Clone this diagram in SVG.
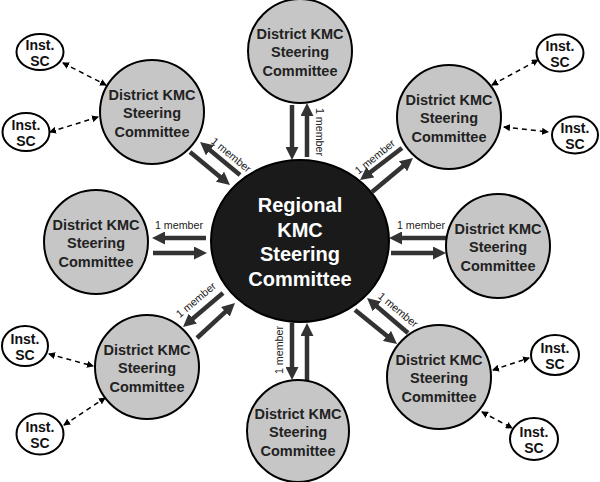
<svg xmlns="http://www.w3.org/2000/svg" width="600" height="482" viewBox="0 0 600 482">
<style>
.dn{fill:#c6c6c6;stroke:#000;stroke-width:2}
.dt{font-family:"Liberation Sans",Arial,sans-serif;font-weight:bold;font-size:14.5px;fill:#222;text-anchor:middle}
.ins{fill:#fff;stroke:#000;stroke-width:2}
.it{font-family:"Liberation Sans",Arial,sans-serif;font-weight:bold;font-size:14px;fill:#111;text-anchor:middle}
.ct{font-family:"Liberation Sans",Arial,sans-serif;font-weight:bold;font-size:20px;fill:#fff;text-anchor:middle}
.th{stroke:#333;stroke-width:4.5;fill:none;marker-end:url(#ah)}
.da{stroke:#000;stroke-width:1.5;stroke-dasharray:5 4;fill:none;marker-start:url(#sa);marker-end:url(#sa)}
.lb{font-family:"Liberation Sans",Arial,sans-serif;font-size:10.7px;fill:#222;text-anchor:middle}
</style>
<defs>
<marker id="ah" markerUnits="userSpaceOnUse" markerWidth="13" markerHeight="13" refX="5" refY="6.5" orient="auto"><path d="M0,0 L13,6.5 L0,13 z" fill="#333"/></marker>
<marker id="sa" markerUnits="userSpaceOnUse" markerWidth="7" markerHeight="7" refX="6" refY="3.5" orient="auto-start-reverse"><path d="M0,0 L7,3.5 L0,7 z" fill="#000"/></marker>
</defs>
<g id="connectors">
<line class="th" x1="292" y1="105" x2="292" y2="152"/>
<line class="th" x1="307" y1="157" x2="307" y2="111"/>
<line class="th" x1="292" y1="323" x2="292" y2="372"/>
<line class="th" x1="307" y1="381" x2="307" y2="331"/>
<line class="th" x1="206" y1="238" x2="160" y2="238"/>
<line class="th" x1="153" y1="253" x2="199" y2="253"/>
<line class="th" x1="446" y1="238" x2="397" y2="238"/>
<line class="th" x1="391" y1="253" x2="438" y2="253"/>
<line class="th" x1="240" y1="175" x2="206.2" y2="147.1"/>
<line class="th" x1="190" y1="152" x2="223.8" y2="179.9"/>
<line class="th" x1="402" y1="148" x2="366.4" y2="175.2"/>
<line class="th" x1="372" y1="192" x2="406.8" y2="163.1"/>
<line class="th" x1="223" y1="293" x2="189.1" y2="321.8"/>
<line class="th" x1="197" y1="338" x2="229.1" y2="308.4"/>
<line class="th" x1="408" y1="333" x2="373.1" y2="303.2"/>
<line class="th" x1="355" y1="310" x2="390.8" y2="339"/>
<line class="da" x1="63" y1="63" x2="106" y2="85"/>
<line class="da" x1="50" y1="132" x2="98" y2="117"/>
<line class="da" x1="492" y1="85" x2="538" y2="60"/>
<line class="da" x1="504" y1="127" x2="548" y2="132"/>
<line class="da" x1="49" y1="354" x2="93" y2="366"/>
<line class="da" x1="64" y1="425" x2="105" y2="398"/>
<line class="da" x1="493" y1="370" x2="529" y2="358"/>
<line class="da" x1="482" y1="412" x2="512" y2="428"/>
<g class="lb">
<text transform="translate(319,132) rotate(90)" y="3.5">1 member</text>
<text transform="translate(279,350) rotate(-90)" y="3.5">1 member</text>
<text x="179" y="229">1 member</text>
<text x="421" y="229">1 member</text>
<text transform="translate(231,155) rotate(39.5)" y="3.5">1 member</text>
<text transform="translate(375,157) rotate(-39)" y="3.5">1 member</text>
<text transform="translate(196,300) rotate(-40)" y="3.5">1 member</text>
<text transform="translate(398,310) rotate(40)" y="3.5">1 member</text>
</g>
</g>
<g id="regional">
<ellipse cx="300" cy="241" rx="89" ry="81" fill="#1a1a1a" stroke="#000" stroke-width="2"/>
<text class="ct" x="300" y="212">Regional</text>
<text class="ct" x="300" y="236.5">KMC</text>
<text class="ct" x="300" y="261">Steering</text>
<text class="ct" x="300" y="285.5">Committee</text>
</g>
<g id="district-top">
<circle class="dn" cx="300" cy="51" r="52"/>
<text class="dt" x="300" y="38.5">District KMC</text><text class="dt" x="300" y="57">Steering</text><text class="dt" x="300" y="75.5">Committee</text>
</g>
<g id="district-tl">
<circle class="dn" cx="152" cy="112" r="52"/>
<text class="dt" x="152" y="99.5">District KMC</text><text class="dt" x="152" y="118">Steering</text><text class="dt" x="152" y="136.5">Committee</text>
</g>
<g id="district-tr">
<circle class="dn" cx="449" cy="117" r="52"/>
<text class="dt" x="449" y="104.5">District KMC</text><text class="dt" x="449" y="123">Steering</text><text class="dt" x="449" y="141.5">Committee</text>
</g>
<g id="district-l">
<circle class="dn" cx="96" cy="242" r="52"/>
<text class="dt" x="96" y="229.5">District KMC</text><text class="dt" x="96" y="248">Steering</text><text class="dt" x="96" y="266.5">Committee</text>
</g>
<g id="district-r">
<circle class="dn" cx="498" cy="246" r="52"/>
<text class="dt" x="498" y="233.5">District KMC</text><text class="dt" x="498" y="252">Steering</text><text class="dt" x="498" y="270.5">Committee</text>
</g>
<g id="district-bl">
<circle class="dn" cx="147" cy="367" r="52"/>
<text class="dt" x="147" y="354.5">District KMC</text><text class="dt" x="147" y="373">Steering</text><text class="dt" x="147" y="391.5">Committee</text>
</g>
<g id="district-br">
<circle class="dn" cx="439" cy="377" r="52"/>
<text class="dt" x="439" y="364.5">District KMC</text><text class="dt" x="439" y="383">Steering</text><text class="dt" x="439" y="401.5">Committee</text>
</g>
<g id="district-b">
<circle class="dn" cx="298" cy="431" r="51"/>
<text class="dt" x="298" y="418.5">District KMC</text><text class="dt" x="298" y="437">Steering</text><text class="dt" x="298" y="455.5">Committee</text>
</g>
<g id="inst-tl1"><ellipse class="ins" cx="40" cy="52" rx="23.5" ry="18"/><text class="it" x="40" y="50">Inst.</text><text class="it" x="40" y="66">SC</text></g>
<g id="inst-tl2"><ellipse class="ins" cx="26" cy="132" rx="23.5" ry="19"/><text class="it" x="26" y="130">Inst.</text><text class="it" x="26" y="146">SC</text></g>
<g id="inst-tr1"><ellipse class="ins" cx="560" cy="53" rx="23.5" ry="18.5"/><text class="it" x="560" y="51">Inst.</text><text class="it" x="560" y="67">SC</text></g>
<g id="inst-tr2"><ellipse class="ins" cx="575" cy="135" rx="23" ry="18.5"/><text class="it" x="575" y="133">Inst.</text><text class="it" x="575" y="149">SC</text></g>
<g id="inst-bl1"><ellipse class="ins" cx="25" cy="346" rx="23" ry="20"/><text class="it" x="25" y="344">Inst.</text><text class="it" x="25" y="360">SC</text></g>
<g id="inst-bl2"><ellipse class="ins" cx="40" cy="434" rx="23.5" ry="20.5"/><text class="it" x="40" y="432">Inst.</text><text class="it" x="40" y="448">SC</text></g>
<g id="inst-br1"><ellipse class="ins" cx="555" cy="355" rx="24" ry="20"/><text class="it" x="555" y="353">Inst.</text><text class="it" x="555" y="369">SC</text></g>
<g id="inst-br2"><ellipse class="ins" cx="534" cy="439" rx="24" ry="21"/><text class="it" x="534" y="437">Inst.</text><text class="it" x="534" y="453">SC</text></g>
</svg>
